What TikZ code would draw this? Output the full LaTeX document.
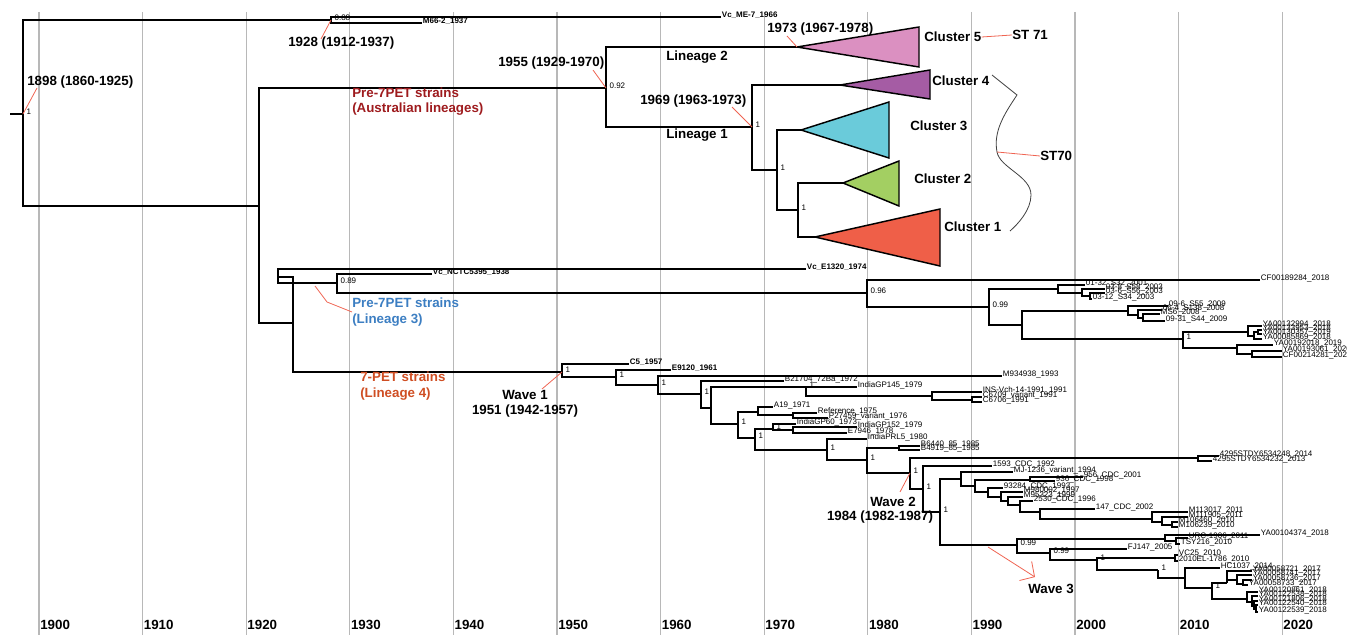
\documentclass[tikz,border=0pt]{standalone}
\usepackage{fontspec}
\setmainfont{Liberation Sans}
\usepackage{xcolor}
\usetikzlibrary{arrows.meta}

\definecolor{leadred}{HTML}{EF6452}
\definecolor{gridgray}{HTML}{B8B8B8}
\definecolor{clusterone}{HTML}{EF5F48}
\definecolor{clustertwo}{HTML}{A3CF62}
\definecolor{clusterthree}{HTML}{6ACBDA}
\definecolor{clusterfour}{HTML}{A55CA4}
\definecolor{clusterfive}{HTML}{DB90C1}
\definecolor{auscol}{HTML}{9E1B1E}
\definecolor{linthree}{HTML}{3C7EC2}
\definecolor{linfour}{HTML}{CF4E23}

\begin{document}
\begin{tikzpicture}[x=0.75pt,y=-0.75pt,>={Straight Barb[length=8pt,width=17pt]},
        branch/.style={line width=1.4pt},
        leader/.style={leadred,line width=0.6pt},
        gridline/.style={gridgray,line width=0.8pt},
        tiplab/.style={anchor=west,inner sep=0.5pt,yshift=1pt,font=\fontsize{6}{6}\selectfont},
        tiplabb/.style={tiplab,font=\fontsize{6}{6}\selectfont\bfseries},
        conf/.style={anchor=west,inner sep=0pt,xshift=2.5pt,yshift=1.5pt,font=\fontsize{6}{6}\selectfont},
        big/.style={inner sep=0pt,font=\fontsize{10}{11.5}\selectfont\bfseries},
        clade/.style={draw=black,line width=1.1pt,line join=miter}]
        \useasboundingbox (0,0) rectangle (1347,635);

        % draw the year grid
        \foreach \yr in {1900,1910,...,2020} {
                \draw[gridline] ({39+(\yr-1900)*10.36},12) -- ({39+(\yr-1900)*10.36},635);
                \node[big,anchor=west] (yr\yr) at ({40+(\yr-1900)*10.36},625) {\yr};
        }

        % internal nodes of the tree
        \foreach \n/\x/\y in {
            stub/10/114, r/23/114, a/331/20, b/259/206,
            n/606/88, o/752/127, p/777/170, q/798/210,
            c5/797/47, c4/840/85, c3/801/130, c2/843/183, c1/815/237,
            d/293/323, e/278/277, f/337/283, g/867/293, h/989/307,
            i/1058/289, i2/1082/293, i3/1090/296,
            j/1022/325, k/1128/311, k2/1138/315, k3/1143/318,
            l/1183/339, l1/1248/332, l1b/1254/336, l1c/1258/332,
            l2b/1237/348, l2c/1252/354,
            w1/562/372, w1b/616/377, w1c/658/385, w1d/701/394,
            x1/711/408, x2/806/387, x3/738/424, x4/932/396, x5/972/400,
            x6/758/412, x7/755/438, x8/793/415, x9/773/429, x10/827/450,
            x11/793/430, x12/867/460, x13/899/448,
            w2/910/473, x14/1198/458, x15/923/489, x16/940/512,
            x17/961/479, x18/975/486, x19/1030/480, x20/988/492,
            x21/1001/497, x22/1008/501, x23/1020/505, x24/1040/512,
            x25/1152/519, x26/1162/522, x27/1172/525,
            w3/1017/545, x28/1165/539, x30/1176/541, x29/1050/553,
            x31/1097/560, x32/1158/570, x33/1175/558, x34/1185/578,
            x35/1212/588, x36/1227/583, x38/1237/580, x39/1243/584,
            x37/1247/599, x40/1252/602, x41/1254/606, x42/1256/609}
                \coordinate (\n) at (\x,\y);

        % tips with bold labels
        \foreach \n/\x/\y/\t in {
            tme7/721/17/Vc\_ME-7\_1966,
            tm66/422/23/M66-2\_1937,
            te1320/806/269/Vc\_E1320\_1974,
            tnctc/432/274/Vc\_NCTC5395\_1938,
            tc5/629/364/C5\_1957,
            te9120/671/370/E9120\_1961} {
                \coordinate (\n) at (\x,\y);
                \node[tiplabb] (\n-lab) at (\n) {\t};
        }

        % tips with plain labels
        \foreach \n/\x/\y/\t in {
            tcf189/1260/280/CF00189284\_2018,
            t0132/1085/285/01-32\_S32\_2001,
            t038/1105/289/03-8\_S58\_2003,
            t036/1105/293/03-6\_S56\_2003,
            t0312/1092/299/03-12\_S34\_2003,
            t096/1168/306/09-6\_S55\_2009,
            t064/1162/310/06-4\_S138\_2008,
            tms6/1160/314/MS6\_2008,
            t0931/1165/321/09-31\_S44\_2009,
            tya132994/1262/326/YA00132994\_2018,
            tya133953/1262/330/YA00133953\_2018,
            tya130357/1262/334/YA00130357\_2019,
            tya85869/1262/339/YA00085869\_2018,
            tya192018/1273/345/YA00192018\_2019,
            tya193061/1282/351/YA00193061\_2020,
            tcf214/1282/357/CF00214281\_2020,
            tm934/1002/376/M934938\_1993,
            tb21704/784/381/B21704\_72Ba\_1972,
            tigp145/857/387/IndiaGP145\_1979,
            tins/982/392/INS-Vch-14-1991\_1991,
            tc6709/982/397/C6709\_variant\_1991,
            tc6706/982/402/C6706\_1991,
            ta19/773/407/A19\_1971,
            tref/817/413/Reference\_1975,
            tp27/828/418/P27459\_variant\_1976,
            tigp60/796/424/IndiaGP60\_1973,
            tigp152/857/427/IndiaGP152\_1979,
            te7946/847/433/E7946\_1978,
            tiprl5/867/439/IndiaPRL5\_1980,
            tb6440/920/446/B6440\_85\_1985,
            tb4919/920/450/B4919\_85\_1985,
            t4295a/1219/456/4295STDY6534248\_2014,
            t4295b/1212/461/4295STDY6534232\_2013,
            t1593/992/466/1593\_CDC\_1992,
            tmj/1013/472/MJ-1236\_variant\_1994,
            t956/1083/477/956\_CDC\_2001,
            t936/1055/481/936\_CDC\_1998,
            t93284/1003/488/93284\_CDC\_1993,
            tm980/1023/492/M980002\_1997,
            tm953/1023/497/M95323\_1999,
            t2530/1033/501/2530\_CDC\_1996,
            t147/1095/509/147\_CDC\_2002,
            tm113/1188/512/M113017\_2011,
            tm111/1188/517/M111905\_2011,
            tm1064/1178/522/M106460\_2010,
            tm1062/1178/527/M106239\_2010,
            tya104/1260/535/YA00104374\_2018,
            turc/1188/538/URC-1906\_2011,
            ttsy/1180/544/TSY216\_2010,
            tfj/1127/549/FJ147\_2005,
            tvc25/1178/555/VC25\_2010,
            tel/1178/561/2010EL-1786\_2010,
            thc/1220/568/HC1037\_2014,
            tya58721/1252/571/YA00058721\_2017,
            tya58741/1252/575/YA00058741\_2017,
            tya58736/1252/580/YA00058736\_2017,
            tya58733/1248/585/YA00058733\_2017,
            tya120861/1258/592/YA00120861\_2018,
            tya122538/1258/596/YA00122538\_2018,
            tya121806/1258/601/YA00121806\_2018,
            tya122540/1258/605/YA00122540\_2018,
            tya122539/1258/612/YA00122539\_2018} {
                \coordinate (\n) at (\x,\y);
                \node[tiplab] (\n-lab) at (\n) {\t};
        }

        % draw the branches, parent to child
        \draw[branch] (stub) -- (r);
        \foreach \p/\c in {
            r/a, r/b, a/tme7, a/tm66, b/n, b/d,
            n/c5, n/o, o/c4, o/p, p/c3, p/q, q/c2, q/c1,
            d/e, d/w1, e/te1320, e/f, f/tnctc, f/g, g/tcf189, g/h,
            h/i, h/j, i/t0132, i/i2, i2/t038, i2/i3, i3/t036, i3/t0312,
            j/k, j/l, k/t096, k/k2, k2/t064, k2/k3, k3/tms6, k3/t0931,
            l/l1, l/l2b, l1/tya132994, l1/l1b, l1b/l1c, l1b/tya85869,
            l1c/tya133953, l1c/tya130357,
            l2b/tya192018, l2b/l2c, l2c/tya193061, l2c/tcf214,
            w1/tc5, w1/w1b, w1b/te9120, w1b/w1c, w1c/tm934, w1c/w1d,
            w1d/tb21704, w1d/x1, x1/x2, x1/x3,
            x2/tigp145, x2/x4, x4/tins, x4/x5, x5/tc6709, x5/tc6706,
            x3/x6, x3/x7, x6/ta19, x6/x8, x8/tref, x8/tp27,
            x7/x9, x7/x10, x9/tigp60, x9/x11, x11/tigp152, x11/te7946,
            x10/tiprl5, x10/x12, x12/x13, x12/w2, x13/tb6440, x13/tb4919,
            w2/x14, w2/x15, x14/t4295a, x14/t4295b,
            x15/t1593, x15/x16, x16/x17, x16/w3,
            x17/tmj, x17/x18, x18/x19, x18/x20, x19/t956, x19/t936,
            x20/t93284, x20/x21, x21/tm980, x21/x22, x22/tm953, x22/x23,
            x23/t2530, x23/x24, x24/t147, x24/x25,
            x25/tm113, x25/x26, x26/tm111, x26/x27, x27/tm1064, x27/tm1062,
            w3/x28, w3/x29, x28/tya104, x28/x30, x30/turc, x30/ttsy,
            x29/tfj, x29/x31, x31/x33, x31/x32, x32/x34,
            x33/tvc25, x33/tel, x34/thc, x34/x35,
            x35/x36, x35/x37, x36/tya58721, x36/x38, x38/tya58741, x38/x39,
            x39/tya58736, x39/tya58733,
            x37/tya120861, x37/x40, x40/tya122538, x40/x41,
            x41/tya121806, x41/x42, x42/tya122540, x42/tya122539}
                \draw[branch] (\p) |- (\c);

        % draw the collapsed clusters
        \foreach \c/\xr/\yt/\yb/\col in {
            c5/919/27/67/clusterfive,
            c4/930/70/99/clusterfour,
            c3/889/102/158/clusterthree,
            c2/899/161/206/clustertwo,
            c1/940/209/266/clusterone}
                \filldraw[clade,fill=\col] (\c) -- (\xr,\yt) -- (\xr,\yb) -- cycle;

        % posterior support at the nodes
        \foreach \n/\v in {
            r/1, a/0.88, n/0.92, o/1, p/1, q/1, f/0.89, g/0.96, h/0.99, l/1,
            w1/1, w1b/1, w1c/1, w1d/1, x2/1, x3/1, x7/1, x9/1, x10/1, x12/1,
            w2/1, x15/1, x16/1, w3/0.99, x29/0.99, x31/1, x32/1, x35/1}
                \node[conf] (\n-pp) at (\n) {\v};

        % cluster names and sequence types
        \node[big,anchor=west] (c5-lab) at (924,37) {Cluster 5};
        \node[big,anchor=west] (c4-lab) at (932,81) {Cluster 4};
        \node[big,anchor=west] (c3-lab) at (910,126) {Cluster 3};
        \node[big,anchor=west] (c2-lab) at (914,179) {Cluster 2};
        \node[big,anchor=west] (c1-lab) at (944,227) {Cluster 1};
        \node[big,anchor=west] (st71) at (1012,35) {ST 71};
        \node[big,anchor=west] (st70) at (1040,156) {ST70};
        \draw[leader] (c5-lab.east) -- (st71.west);

        % the wavy brace round clusters 1 to 4
        \coordinate (bracemid) at (997,152);
        \draw[black!75,line width=0.6pt] (992,75) -- (1017,95)
              .. controls (1005,113) and (993,131) .. (bracemid)
              .. controls (1000,168) and (1031,176) .. (1031,195)
              .. controls (1031,210) and (1018,224) .. (1010,231);
        \draw[leader] (bracemid) -- (st70.west);

        % lineages and strain groups
        \node[big] (lin2) at (697,57) {Lineage 2};
        \node[big] (lin1) at (697,135) {Lineage 1};
        \node[big,anchor=west,align=left,text=auscol] (aus) at (352,101.5)
              {Pre-7PET strains\\(Australian lineages)};
        \node[big,anchor=west,align=left,text=linthree] (pre3) at (352,312)
              {Pre-7PET strains\\(Lineage 3)};
        \node[big,anchor=west,align=left,text=linfour] (pet4) at (360,386)
              {7-PET strains\\(Lineage 4)};

        % dated nodes
        \node[big,anchor=west] (d1898) at (27,82) {1898 (1860-1925)};
        \node[big,anchor=west] (d1928) at (288,43) {1928 (1912-1937)};
        \node[big,anchor=west] (d1955) at (498,63) {1955 (1929-1970)};
        \node[big,anchor=west] (d1969) at (640,101) {1969 (1963-1973)};
        \node[big,anchor=west] (d1973) at (767,29) {1973 (1967-1978)};
        \node[big,align=center] (wave1) at (525,403.5) {Wave 1\\1951 (1942-1957)};
        \node[big] (wave2) at (893,502) {Wave 2};
        \node[big] (d1984) at (880,517) {1984 (1982-1987)};
        \node[big] (wave3) at (1051,589) {Wave 3};

        % red leaders from the nodes to their labels
        \foreach \n/\x/\y in {
            r/37/88, a/321/39, n/593/70, o/732/107, c5/787/36,
            w1/542/389, w2/900/492} {
                \coordinate (\n-end) at (\x,\y);
                \draw[leader] (\n) -- (\n-end);
        }
        \coordinate (pre3-a) at (315,286);
        \coordinate (pre3-b) at (327,302);
        \draw[leader] (pre3-a) -- (pre3-b) -- (pre3.west);
        \coordinate (w3-a) at (988,547);
        \coordinate (w3-b) at (1035,577);
        \draw[leader,->] (w3-a) -- (w3-b);
\end{tikzpicture}
\end{document}
